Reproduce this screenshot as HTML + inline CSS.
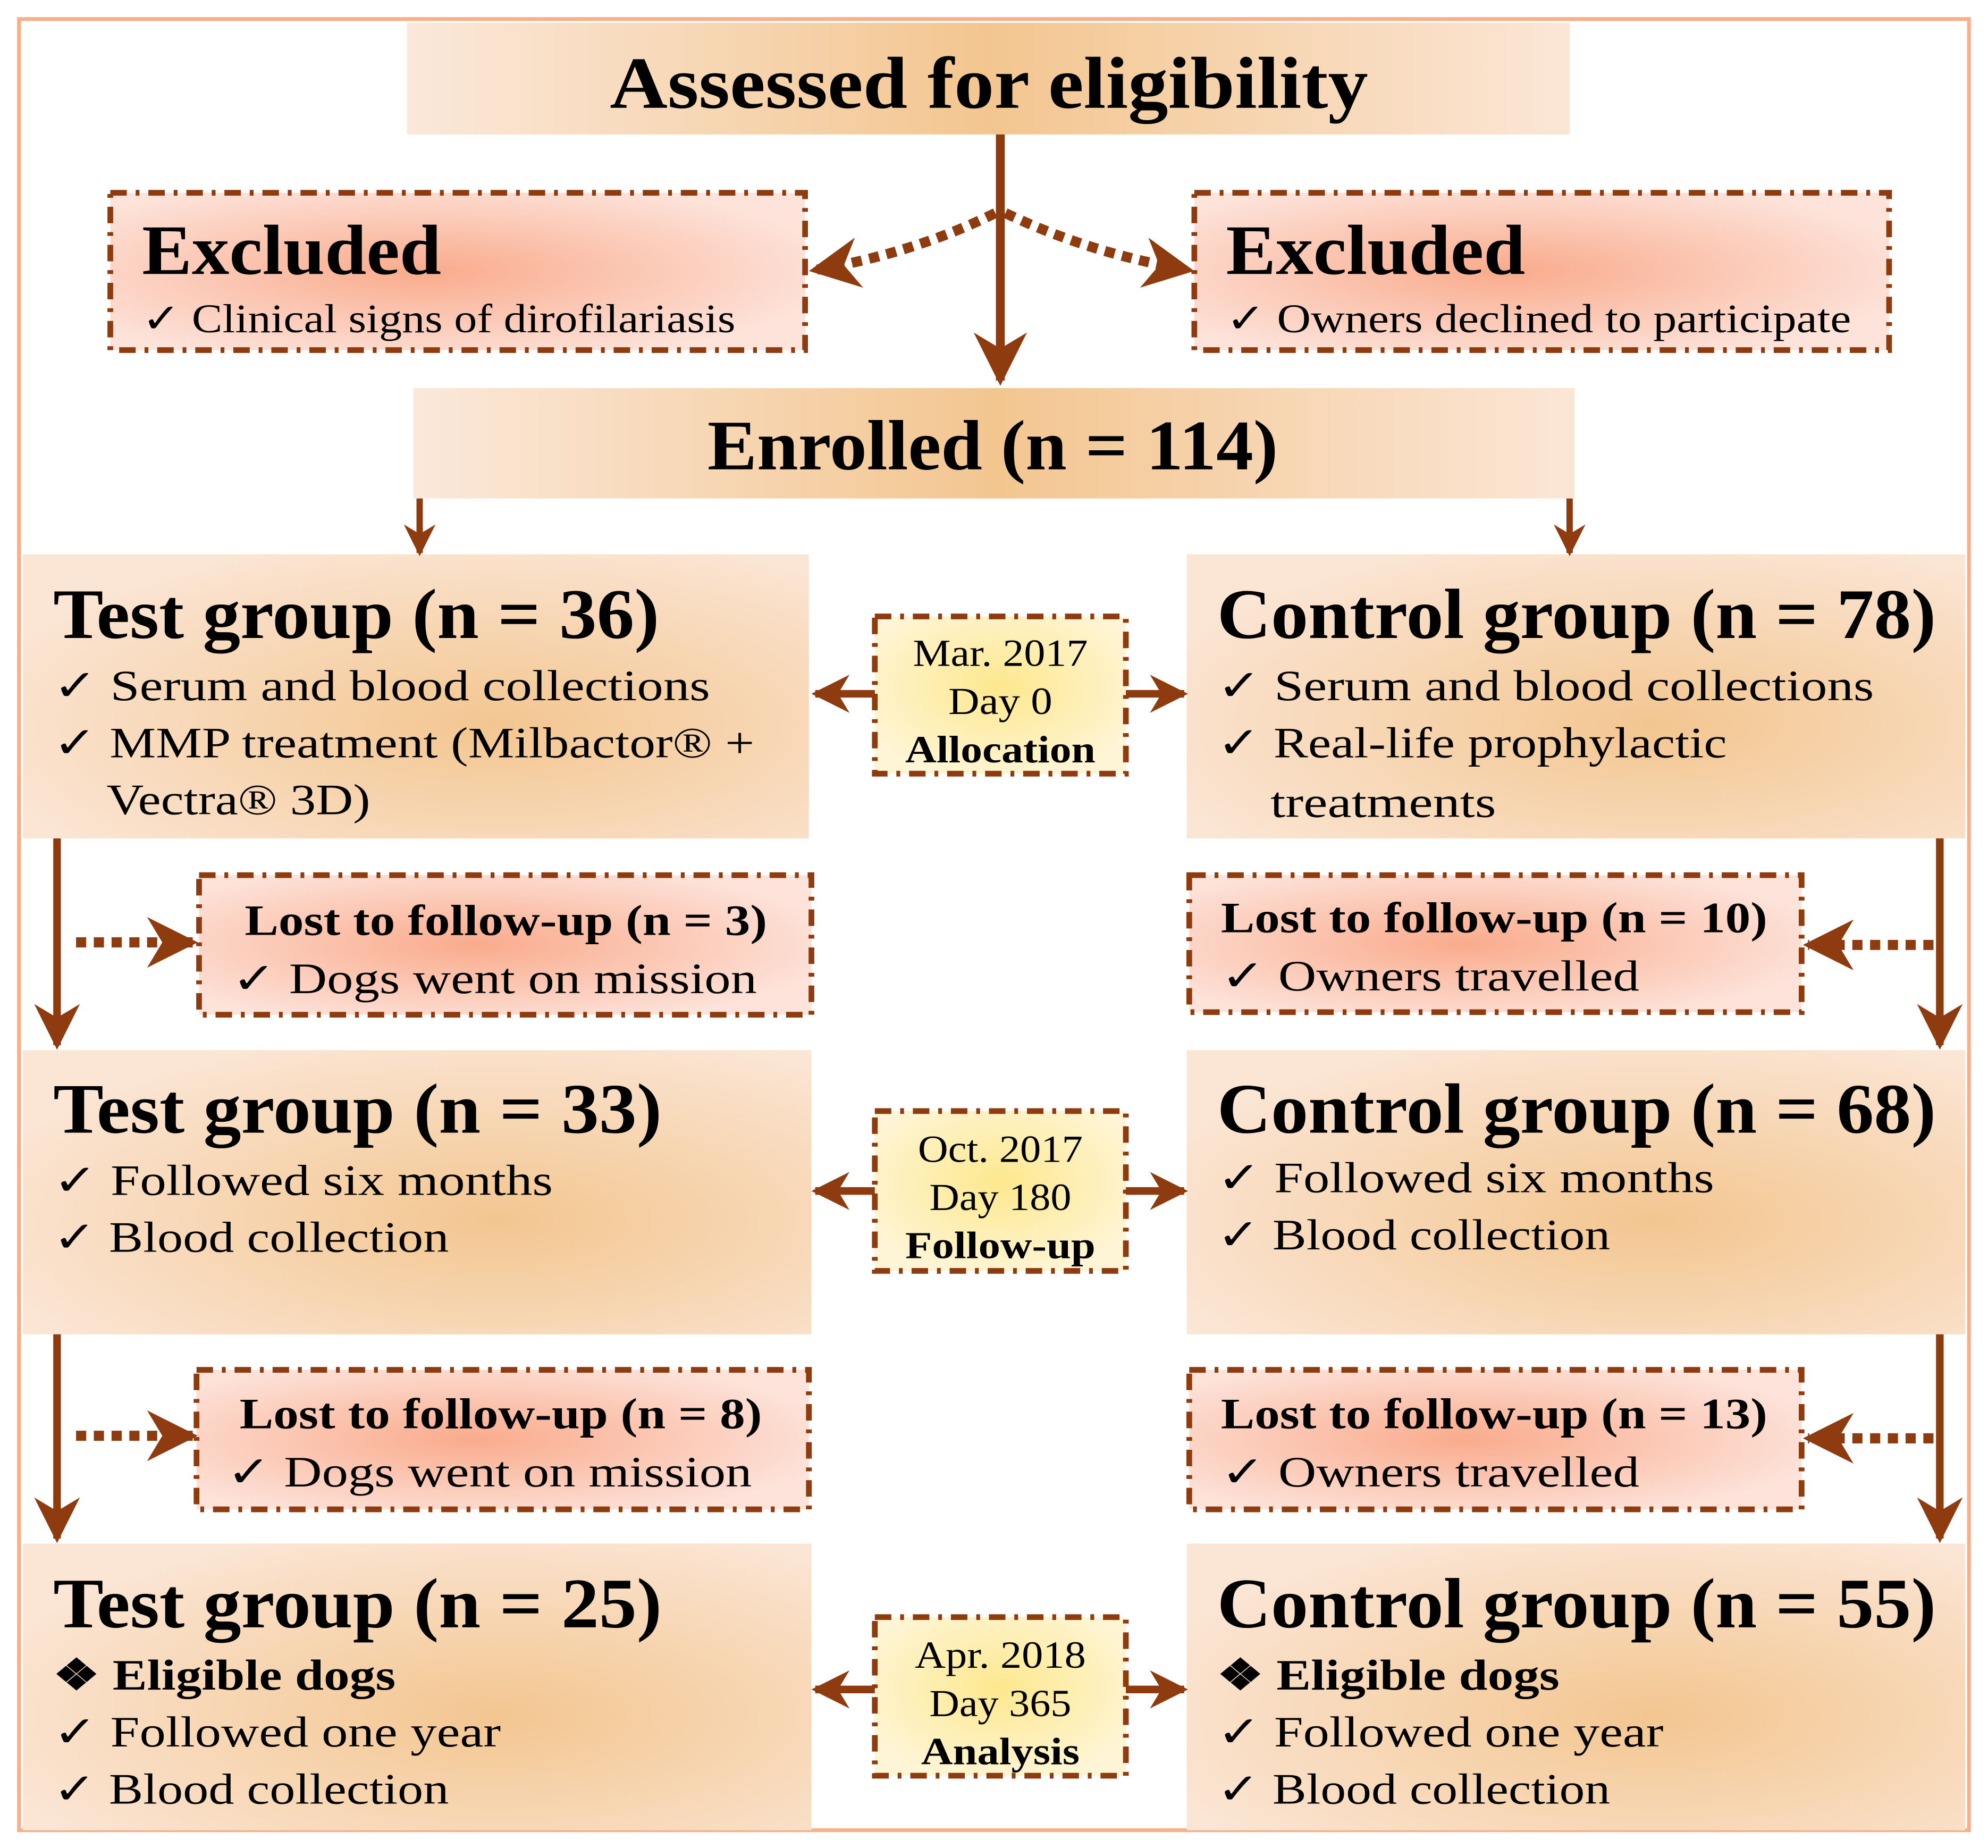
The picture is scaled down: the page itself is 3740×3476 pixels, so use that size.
<!DOCTYPE html>
<html><head><meta charset="utf-8"><style>html,body{margin:0;padding:0;background:#fff}svg{display:block}</style></head>
<body>
<svg xmlns="http://www.w3.org/2000/svg" width="3740" height="3476" viewBox="0 0 1568 1457" preserveAspectRatio="none" font-family="'Liberation Serif',serif">
<defs>
<linearGradient id="hg" x1="0" x2="1" y1="0" y2="0"><stop offset="0" stop-color="#fbe8da"/><stop offset="0.5" stop-color="#f3c690"/><stop offset="1" stop-color="#fbe6d6"/></linearGradient>
<radialGradient id="gg" cx="0.6" cy="0.6" r="0.7"><stop offset="0" stop-color="#f3c690"/><stop offset="1" stop-color="#fbe6d6"/></radialGradient>
<radialGradient id="pg" cx="0.45" cy="0.5" r="0.6"><stop offset="0" stop-color="#f9ab8c"/><stop offset="1" stop-color="#fde3da"/></radialGradient>
<radialGradient id="yg" cx="0.5" cy="0.45" r="0.6"><stop offset="0" stop-color="#fde88e"/><stop offset="1" stop-color="#fef5d6"/></radialGradient>
<marker id="ah" viewBox="0 0 10 10" refX="9" refY="5" markerWidth="6" markerHeight="7" orient="auto" markerUnits="strokeWidth"><path d="M0,0 L10,5 L0,10 L3,5 z" fill="#8e3b10"/></marker>
<marker id="ah2" viewBox="0 0 10 10" refX="9" refY="5" markerWidth="5" markerHeight="6" orient="auto" markerUnits="strokeWidth"><path d="M0,0 L10,5 L0,10 L3,5 z" fill="#8e3b10"/></marker>
</defs>
<rect x="15" y="15" width="1538" height="1428" fill="none" stroke="#f8b08a" stroke-width="3"/>

<g stroke="#8e3b10" fill="none" stroke-width="4.5" stroke-dasharray="13,7,3,7">
<rect x="87" y="152" width="548" height="124" fill="url(#pg)"/>
<rect x="942" y="152" width="548" height="124" fill="url(#pg)"/>
<rect x="157" y="690" width="483" height="110" fill="url(#pg)"/>
<rect x="938" y="690" width="483" height="108" fill="url(#pg)"/>
<rect x="155" y="1080" width="483" height="110" fill="url(#pg)"/>
<rect x="938" y="1080" width="483" height="110" fill="url(#pg)"/>
<rect x="690" y="486" width="198" height="124" fill="url(#yg)"/>
<rect x="690" y="876" width="198" height="126" fill="url(#yg)"/>
<rect x="690" y="1275" width="198" height="125" fill="url(#yg)"/>
</g>

<rect x="321" y="18" width="917" height="88" fill="url(#hg)"/>
<rect x="326" y="306" width="916" height="87" fill="url(#hg)"/>
<rect x="18" y="437" width="620" height="224" fill="url(#gg)"/>
<rect x="936" y="437" width="614" height="224" fill="url(#gg)"/>
<rect x="18" y="828" width="622" height="224" fill="url(#gg)"/>
<rect x="936" y="828" width="614" height="224" fill="url(#gg)"/>
<rect x="18" y="1217" width="622" height="226" fill="url(#gg)"/>
<rect x="936" y="1217" width="614" height="226" fill="url(#gg)"/>

<g stroke="#8e3b10" fill="none">
<line x1="789" y1="106" x2="789" y2="300" stroke-width="7" marker-end="url(#ah)"/>
<path d="M785,168 Q720,200 642,213" stroke-width="8" stroke-dasharray="8,6" marker-end="url(#ah2)"/>
<path d="M793,168 Q860,200 938,213" stroke-width="8" stroke-dasharray="8,6" marker-end="url(#ah2)"/>
<line x1="331" y1="393" x2="331" y2="436" stroke-width="5" marker-end="url(#ah2)"/>
<line x1="1238" y1="393" x2="1238" y2="436" stroke-width="5" marker-end="url(#ah2)"/>
<g stroke-width="6">
<line x1="690" y1="547" x2="643" y2="547" marker-end="url(#ah2)"/>
<line x1="888" y1="547" x2="934" y2="547" marker-end="url(#ah2)"/>
<line x1="690" y1="939" x2="643" y2="939" marker-end="url(#ah2)"/>
<line x1="888" y1="939" x2="934" y2="939" marker-end="url(#ah2)"/>
<line x1="690" y1="1332" x2="643" y2="1332" marker-end="url(#ah2)"/>
<line x1="888" y1="1332" x2="934" y2="1332" marker-end="url(#ah2)"/>
<line x1="45" y1="661" x2="45" y2="824" marker-end="url(#ah)"/>
<line x1="1530" y1="661" x2="1530" y2="824" marker-end="url(#ah)"/>
<line x1="45" y1="1052" x2="45" y2="1213" marker-end="url(#ah)"/>
<line x1="1530" y1="1052" x2="1530" y2="1213" marker-end="url(#ah)"/>
</g>
<g stroke-width="8" stroke-dasharray="8,6">
<line x1="60" y1="743" x2="152" y2="743" marker-end="url(#ah2)"/>
<line x1="1525" y1="745" x2="1426" y2="745" marker-end="url(#ah2)"/>
<line x1="60" y1="1132" x2="152" y2="1132" marker-end="url(#ah2)"/>
<line x1="1525" y1="1134" x2="1426" y2="1134" marker-end="url(#ah2)"/>
</g>
</g>

<g fill="#000" lengthAdjust="spacingAndGlyphs">
<text x="780" y="85" font-size="58" font-weight="bold" text-anchor="middle" textLength="598" lengthAdjust="spacingAndGlyphs">Assessed for eligibility</text>
<text x="112" y="216" font-size="56" font-weight="bold" textLength="236" lengthAdjust="spacingAndGlyphs">Excluded</text>
<text x="112" y="262" font-size="32" textLength="468" lengthAdjust="spacingAndGlyphs">✓  Clinical signs of dirofilariasis</text>
<text x="967" y="216" font-size="56" font-weight="bold" textLength="236" lengthAdjust="spacingAndGlyphs">Excluded</text>
<text x="967" y="262" font-size="32" textLength="493" lengthAdjust="spacingAndGlyphs">✓  Owners declined to participate</text>
<text x="783" y="370" font-size="56" font-weight="bold" text-anchor="middle" textLength="450" lengthAdjust="spacingAndGlyphs">Enrolled (n = 114)</text>

<text x="42" y="503" font-size="56" font-weight="bold" textLength="478" lengthAdjust="spacingAndGlyphs">Test group (n = 36)</text>
<text x="42" y="552" font-size="34" textLength="518" lengthAdjust="spacingAndGlyphs">✓ Serum and blood collections</text>
<text x="42" y="597" font-size="34" textLength="553" lengthAdjust="spacingAndGlyphs">✓ MMP treatment (Milbactor® +</text>
<text x="84" y="642" font-size="34" textLength="208" lengthAdjust="spacingAndGlyphs">Vectra® 3D)</text>
<text x="960" y="503" font-size="56" font-weight="bold" textLength="567" lengthAdjust="spacingAndGlyphs">Control group (n = 78)</text>
<text x="960" y="552" font-size="34" textLength="518" lengthAdjust="spacingAndGlyphs">✓ Serum and blood collections</text>
<text x="960" y="597" font-size="34" textLength="402" lengthAdjust="spacingAndGlyphs">✓ Real-life prophylactic</text>
<text x="1002" y="644" font-size="34" textLength="178" lengthAdjust="spacingAndGlyphs">treatments</text>

<g text-anchor="middle" font-size="30">
<text x="789" y="525" textLength="138" lengthAdjust="spacingAndGlyphs">Mar. 2017</text><text x="789" y="563" textLength="82" lengthAdjust="spacingAndGlyphs">Day 0</text><text x="789" y="601" font-weight="bold" textLength="150" lengthAdjust="spacingAndGlyphs">Allocation</text>
<text x="789" y="916" textLength="130" lengthAdjust="spacingAndGlyphs">Oct. 2017</text><text x="789" y="954" textLength="112" lengthAdjust="spacingAndGlyphs">Day 180</text><text x="789" y="992" font-weight="bold" textLength="150" lengthAdjust="spacingAndGlyphs">Follow-up</text>
<text x="789" y="1315" textLength="135" lengthAdjust="spacingAndGlyphs">Apr. 2018</text><text x="789" y="1353" textLength="112" lengthAdjust="spacingAndGlyphs">Day 365</text><text x="789" y="1391" font-weight="bold" textLength="125" lengthAdjust="spacingAndGlyphs">Analysis</text>
</g>

<text x="193" y="737" font-size="34" font-weight="bold" textLength="412" lengthAdjust="spacingAndGlyphs">Lost to follow-up (n = 3)</text>
<text x="183" y="783" font-size="34" textLength="414" lengthAdjust="spacingAndGlyphs">✓ Dogs went on mission</text>
<text x="963" y="735" font-size="34" font-weight="bold" textLength="431" lengthAdjust="spacingAndGlyphs">Lost to follow-up (n = 10)</text>
<text x="963" y="781" font-size="34" textLength="330" lengthAdjust="spacingAndGlyphs">✓ Owners travelled</text>

<text x="42" y="893" font-size="56" font-weight="bold" textLength="480" lengthAdjust="spacingAndGlyphs">Test group (n = 33)</text>
<text x="42" y="942" font-size="34" textLength="394" lengthAdjust="spacingAndGlyphs">✓ Followed six months</text>
<text x="42" y="987" font-size="34" textLength="312" lengthAdjust="spacingAndGlyphs">✓ Blood collection</text>
<text x="960" y="893" font-size="56" font-weight="bold" textLength="567" lengthAdjust="spacingAndGlyphs">Control group (n = 68)</text>
<text x="960" y="940" font-size="34" textLength="392" lengthAdjust="spacingAndGlyphs">✓ Followed six months</text>
<text x="960" y="985" font-size="34" textLength="310" lengthAdjust="spacingAndGlyphs">✓ Blood collection</text>

<text x="189" y="1126" font-size="34" font-weight="bold" textLength="412" lengthAdjust="spacingAndGlyphs">Lost to follow-up (n = 8)</text>
<text x="179" y="1172" font-size="34" textLength="414" lengthAdjust="spacingAndGlyphs">✓ Dogs went on mission</text>
<text x="963" y="1126" font-size="34" font-weight="bold" textLength="431" lengthAdjust="spacingAndGlyphs">Lost to follow-up (n = 13)</text>
<text x="963" y="1172" font-size="34" textLength="330" lengthAdjust="spacingAndGlyphs">✓ Owners travelled</text>

<text x="42" y="1283" font-size="56" font-weight="bold" textLength="480" lengthAdjust="spacingAndGlyphs">Test group (n = 25)</text>
<text x="42" y="1332" font-size="34" font-weight="bold" textLength="270" lengthAdjust="spacingAndGlyphs">❖ Eligible dogs</text>
<text x="42" y="1377" font-size="34" textLength="353" lengthAdjust="spacingAndGlyphs">✓ Followed one year</text>
<text x="42" y="1422" font-size="34" textLength="312" lengthAdjust="spacingAndGlyphs">✓ Blood collection</text>
<text x="960" y="1283" font-size="56" font-weight="bold" textLength="567" lengthAdjust="spacingAndGlyphs">Control group (n = 55)</text>
<text x="960" y="1332" font-size="34" font-weight="bold" textLength="270" lengthAdjust="spacingAndGlyphs">❖ Eligible dogs</text>
<text x="960" y="1377" font-size="34" textLength="352" lengthAdjust="spacingAndGlyphs">✓ Followed one year</text>
<text x="960" y="1422" font-size="34" textLength="310" lengthAdjust="spacingAndGlyphs">✓ Blood collection</text>
</g>
</svg>
</body></html>
